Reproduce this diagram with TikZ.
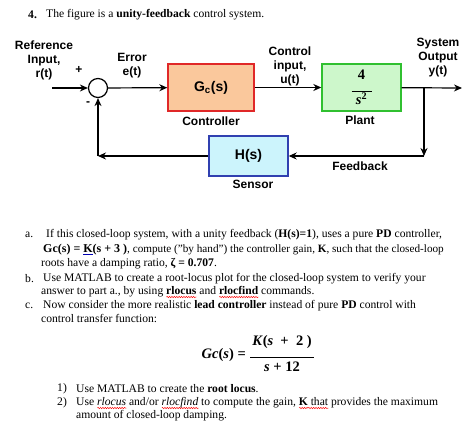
\documentclass[tikz,border=0pt]{standalone}
\usepackage{fontspec}
\setmainfont{Liberation Serif}
\newfontfamily\arial{Liberation Sans}
\usetikzlibrary{arrows.meta,decorations.pathmorphing}
\newlength\wavelen
\newcommand\redwave[1]{\settowidth{\wavelen}{#1}\rlap{\tikz[baseline=0pt]\draw[red, line width=0.45pt, decorate, decoration={snake, amplitude=0.7pt, segment length=2.4pt}] (0pt,-2.8pt) -- (\wavelen,-2.8pt);}#1}
\newcommand\bluline[1]{\textcolor{blue!70!black}{\underline{\textcolor{black}{#1}}}}
\definecolor{gcfill}{HTML}{FAC89C}
\definecolor{gcdraw}{HTML}{E02828}
\definecolor{plfill}{HTML}{CDF7CB}
\definecolor{pldraw}{HTML}{30C030}
\definecolor{hfill}{HTML}{CCF4FC}
\definecolor{hdraw}{HTML}{3040B0}
\begin{document}
\begin{tikzpicture}[x=1pt,y=-1pt,
  lab/.style={font=\arial\bfseries\fontsize{12}{14}\selectfont, align=center, inner sep=0},
  blk/.style={draw, line width=1.4pt, inner sep=0},
  ar/.style={line width=1.2pt, -{Stealth[length=8pt,width=7pt]}},
  txt/.style={font=\fontsize{11.6}{13}\selectfont, anchor=west, inner sep=0}]
\useasboundingbox (0,0) rectangle (474,428);
% title
\node[txt] (t4) at (28,15) {\textbf{4.}};
\node[txt] (t0) at (46,15) {The figure is a \textbf{unity-feedback} control system.};
% diagram
\node[draw, circle, line width=1.2pt, minimum size=19pt, inner sep=0] (sum) at (98,88) {};
\node[blk, fill=gcfill, draw=gcdraw, minimum width=86pt, minimum height=47pt, font=\arial\bfseries\fontsize{14}{16}\selectfont] (gc) at (211,87.5) {G\textsubscript{c}(s)};
\node[blk, fill=plfill, draw=pldraw, minimum width=79pt, minimum height=47pt, align=center, font=\bfseries\fontsize{14.5}{15}\selectfont] (pl) at (361.5,87.5) {4\\[-3pt]\rule{20pt}{1pt}\\[-2pt]\textit{s}\textsuperscript{2}};
\node[blk, fill=hfill, draw=hdraw, minimum width=79pt, minimum height=40pt, font=\arial\bfseries\fontsize{14}{16}\selectfont] (hs) at (248.5,156) {H(s)};
\coordinate (in) at (52,88);
\coordinate (out) at (462,88);
\coordinate (br) at (424,88);
\coordinate (cr) at (424,156);
\coordinate (fl) at (98,156);
\draw[ar] (in) -- (sum);
\draw[ar] (sum) -- (gc);
\draw[ar] (gc) -- (pl);
\draw[ar] (pl) -- (out);
\draw[ar] (br) -- (cr);
\draw[ar] (cr) -- (hs);
\draw[ar] (hs) -- (fl);
\draw[ar] (fl) -- (sum);
\node[lab] (lref) at (44,60) {Reference\\Input,\\r(t)};
\node[lab] (lplus) at (79,70) {+};
\node[lab] (lminus) at (88,104) {-};
\node[lab] (lerr) at (132,66) {Error\\e(t)};
\node[lab] (lu) at (290,66) {Control\\input,\\u(t)};
\node[lab] (ly) at (438,58) {System\\Output\\y(t)};
\node[lab] (lc) at (211,121) {Controller};
\node[lab] (lp) at (360,120) {Plant};
\node[lab] (lf) at (360,166) {Feedback};
\node[lab] (ls) at (253,184) {Sensor};
% text
\node[txt] (a) at (25,235) {a.};
\node[txt] (a1) at (46,235) {If this closed-loop system, with a unity feedback (\textbf{H(s)=1}), uses a pure \textbf{PD} controller,};
\node[txt, font=\fontsize{11.2}{13}\selectfont] (a2) at (43,250) {\textbf{\fontsize{12}{13}\selectfont G\textsc{c}(s) = \bluline{K}(s + 3 )}, compute ("by hand") the controller gain, \textbf{K}, such that the closed-loop};
\node[txt] (a3) at (41,264) {roots have a damping ratio, \textbf{ζ = 0.707}.};
\node[txt] (b) at (25,279) {b.};
\node[txt] (b1) at (43,279) {Use MATLAB to create a root-locus plot for the closed-loop system to verify your};
\node[txt] (b2) at (41,292) {answer to part a., by using \textbf{\redwave{rlocus}} and \textbf{\redwave{rlocfind}} commands.};
\node[txt] (c) at (25,306) {c.};
\node[txt] (c1) at (43,306) {Now consider the more realistic \textbf{lead controller} instead of pure \textbf{PD} control with};
\node[txt] (c2) at (41,318) {control transfer function:};
\node[inner sep=0, anchor=east, font=\bfseries\fontsize{14.5}{16}\selectfont] (eql) at (246,355) {\textit{Gc}(\textit{s}) =};
\node[inner sep=0, align=center, font=\bfseries\fontsize{14.5}{16}\selectfont] (eqf) at (282,354) {\textit{K}(\textit{s}~ + ~2~)\\[-4pt]\rule{64pt}{0.9pt}\\[-2pt]\textit{s} + 12};
\node[txt] (n1) at (57,389) {1)};
\node[txt] (n1t) at (76,389) {Use MATLAB to create the \textbf{root locus}.};
\node[txt] (n2) at (57,403) {2)};
\node[txt] (n2t) at (76,403) {Use \textit{\redwave{rlocus}} and/or \textit{\redwave{rlocfind}} to compute the gain, \textbf{\redwave{K}}\redwave{ that} provides the maximum};
\node[txt] (n3) at (76,416) {amount of closed-loop damping.};
\end{tikzpicture}
\end{document}
